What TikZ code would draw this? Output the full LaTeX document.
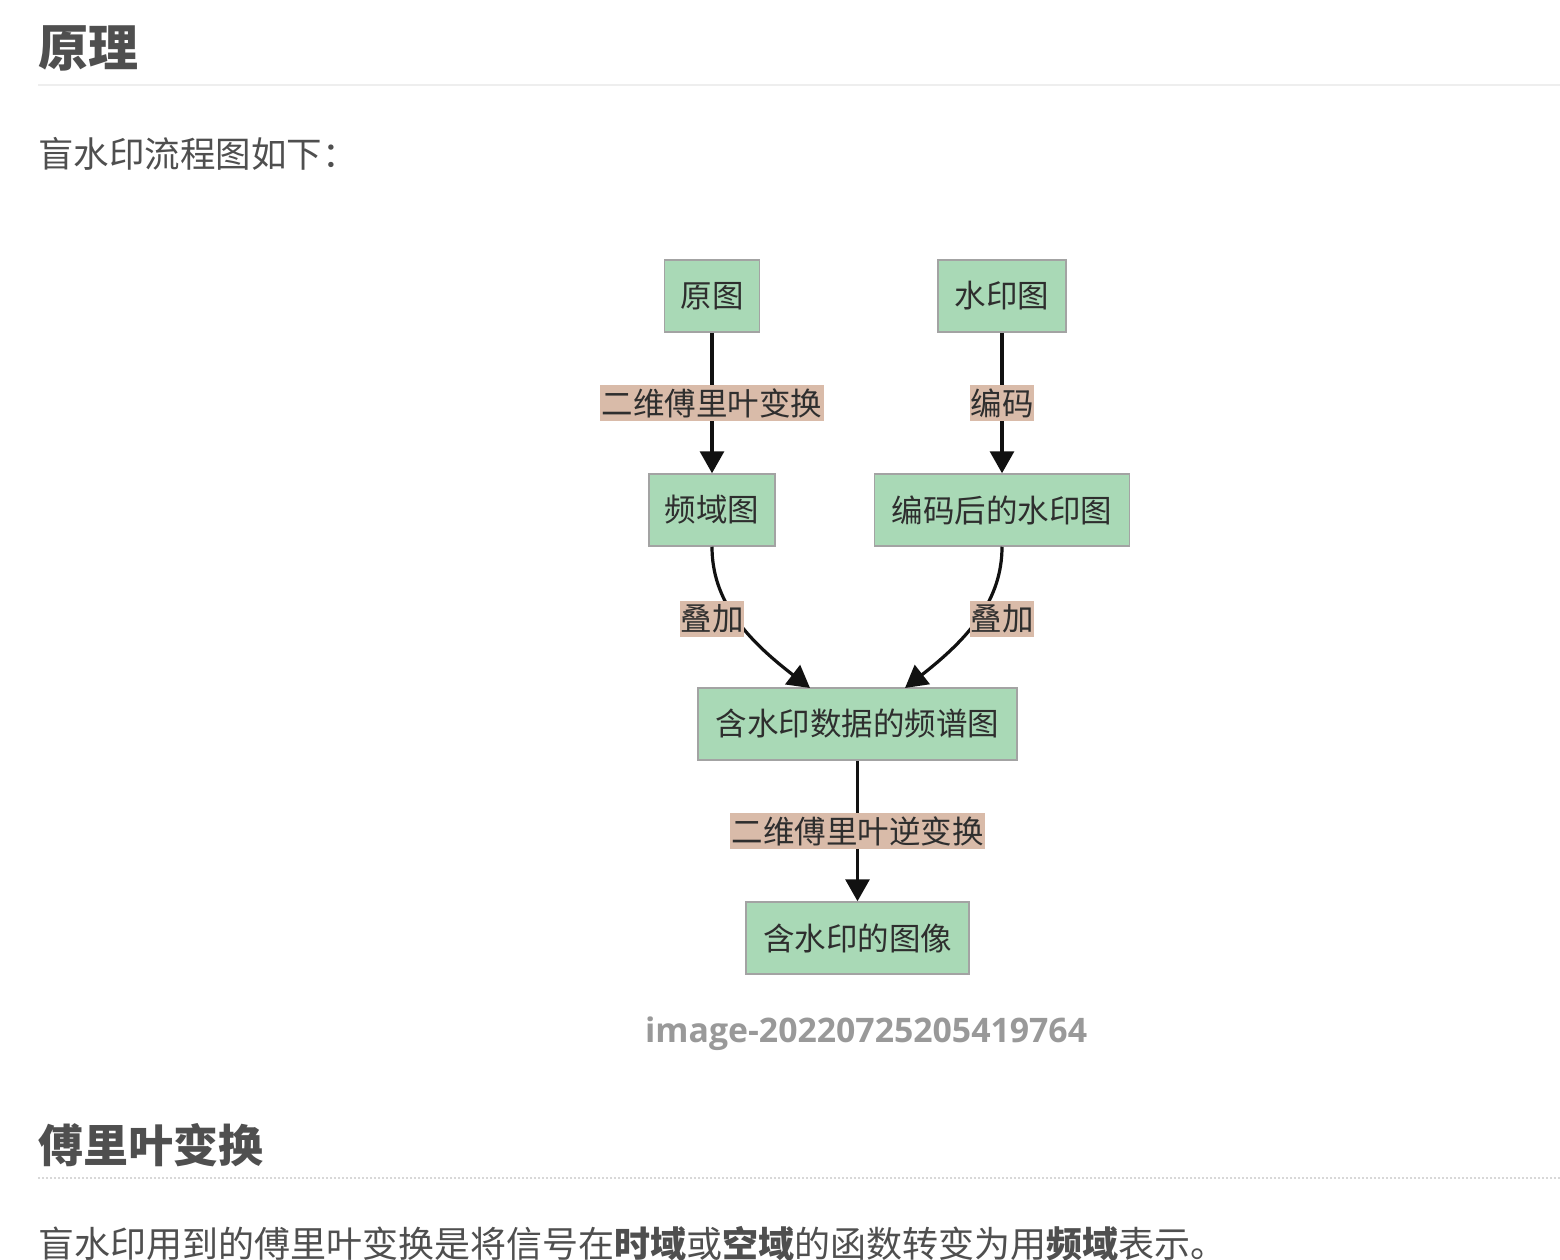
\documentclass[tikz,border=0pt]{standalone}
\usepackage{fontspec}
\setmainfont{Noto Sans CJK SC}
\newfontfamily\capfont{Open Sans}
\usetikzlibrary{arrows.meta}
\definecolor{nodefill}{HTML}{A9D9B6}
\definecolor{nodeline}{HTML}{A3A3A3}
\definecolor{lblfill}{HTML}{D9BBA9}
\definecolor{txtgray}{HTML}{4F4F4F}
\definecolor{capgray}{HTML}{999999}
\definecolor{rulegray}{HTML}{EEEEEE}
\definecolor{edgecol}{HTML}{111111}
\tikzset{
  flowbox/.style={draw=nodeline, line width=1.5pt, fill=nodefill, inner sep=0pt,
    minimum height=72pt, text=black!82, font=\fontsize{31.5pt}{36pt}\selectfont},
  edgelbl/.style={fill=lblfill, inner sep=0pt, minimum height=36pt,
    text=black!82, font=\fontsize{31.5pt}{36pt}\selectfont},
  flowarrow/.style={draw=edgecol, line width=3.2pt,
    -{Triangle[length=22pt,width=24pt]}},
  heading/.style={anchor=base west, inner sep=0pt, text=txtgray},
  bodytext/.style={anchor=base west, inner sep=0pt, text=txtgray}
}
\begin{document}
\begin{tikzpicture}[x=1pt,y=-1pt]
\useasboundingbox[fill=white] (0,0) rectangle (1560,1260);
% page text
\node[heading, font=\fontsize{50pt}{58pt}\selectfont\bfseries] (h1) at (38,67) {原理};
\draw[rulegray, line width=2pt] (38,85) -- (1560,85);
\node[bodytext, font=\fontsize{35.5pt}{42pt}\selectfont] (p1) at (38,168) {盲水印流程图如下：};
% nodes
\node[flowbox, minimum width=95pt] (yt) at (712,296) {原图};
\node[flowbox, minimum width=128pt] (syt) at (1002,296) {水印图};
\node[flowbox, minimum width=126pt] (pyt) at (712,510) {频域图};
\node[flowbox, minimum width=255pt] (bmt) at (1002,510) {编码后的水印图};
\node[flowbox, minimum width=319pt] (ppt) at (857.5,724) {含水印数据的频谱图};
\node[flowbox, minimum width=223pt] (out) at (857.5,938) {含水印的图像};
% edges
\draw[flowarrow] (yt) -- node[edgelbl, minimum width=224pt] (l1) {二维傅里叶变换} (pyt);
\draw[flowarrow] (syt) -- node[edgelbl, minimum width=64pt] (l2) {编码} (bmt);
\coordinate (c3) at (712,619);
\coordinate (c4) at (1002,619);
\draw[flowarrow] (pyt.south) .. controls (712,600) and (745,638) .. (810,688);
\draw[flowarrow] (bmt.south) .. controls (1002,600) and (969,638) .. (905,688);
\node[edgelbl, minimum width=64pt] (l3) at (c3) {叠加};
\node[edgelbl, minimum width=64pt] (l4) at (c4) {叠加};
\draw[flowarrow] (ppt) -- node[edgelbl, minimum width=255pt] (l5) {二维傅里叶逆变换} (out);
% caption
\node[text=capgray, font=\capfont\bfseries\fontsize{33.8pt}{40pt}\selectfont, inner sep=0pt] (cap) at (866,1034) {image-20220725205419764};
% second section
\node[heading, font=\fontsize{45pt}{53pt}\selectfont\bfseries] (h2) at (38,1162) {傅里叶变换};
\draw[rulegray!80!gray, line width=2pt, dotted] (38,1178) -- (1560,1178);
\node[bodytext, font=\fontsize{36pt}{43pt}\selectfont] (p2) at (38,1257) {盲水印用到的傅里叶变换是将信号在\textbf{时域}或\textbf{空域}的函数转变为用\textbf{频域}表示。};
\end{tikzpicture}
\end{document}
